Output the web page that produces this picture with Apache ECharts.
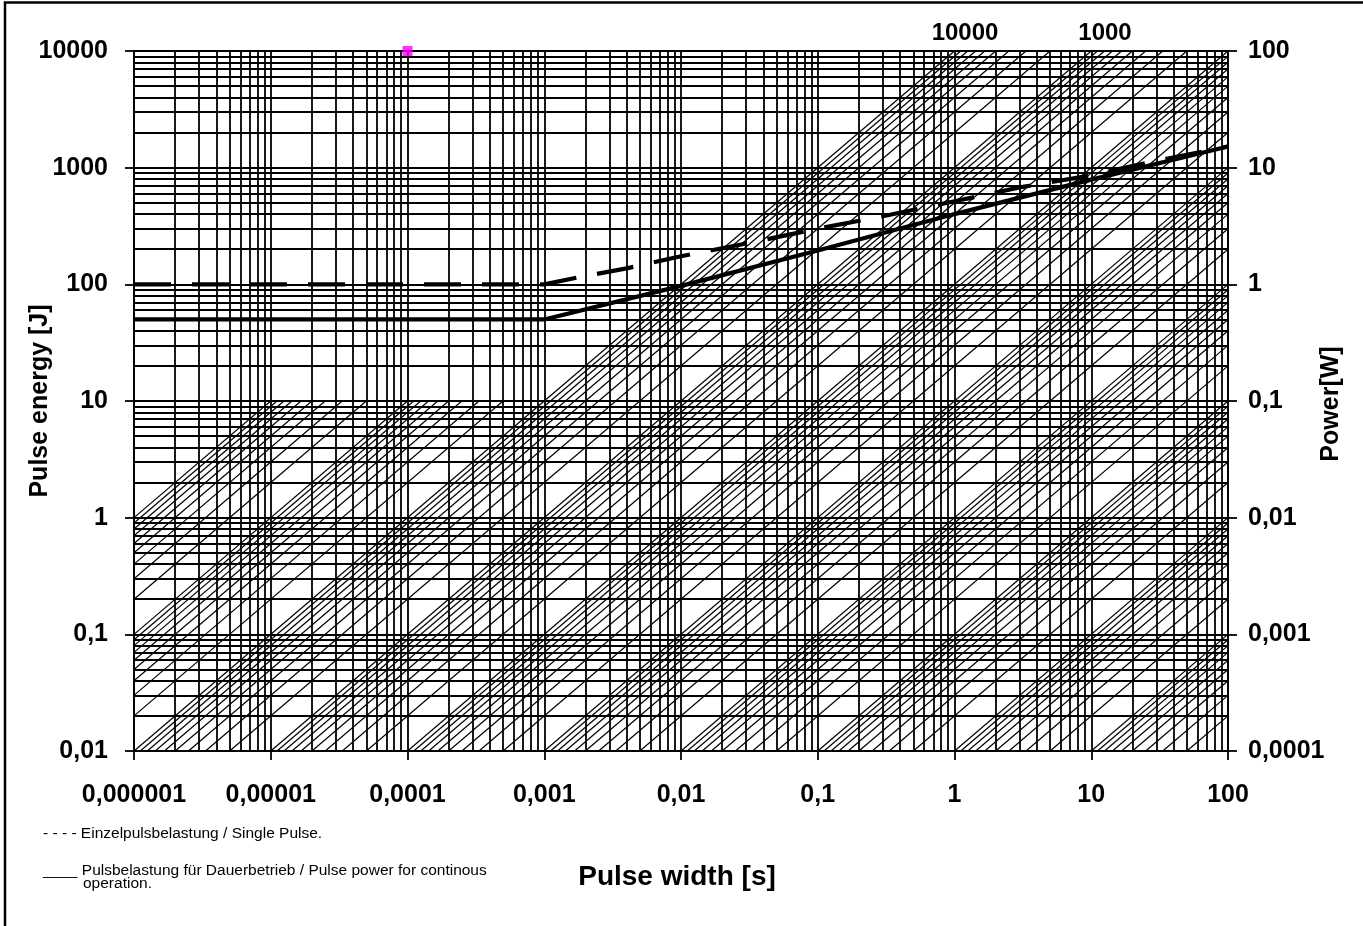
<!DOCTYPE html>
<html><head><meta charset="utf-8">
<script src="https://cdn.jsdelivr.net/npm/echarts@6/dist/echarts.min.js"></script>
<style>html,body{margin:0;padding:0;background:#fff}#c{width:1363px;height:926px}</style>
</head><body><div id="c"></div>
<script>
// ---- axis / grid values ----
const xDecades = [0.000001, 0.00001, 0.0001, 0.001, 0.01, 0.1, 1, 10, 100];
const yDecades = [0.01, 0.1, 1, 10, 100, 1000, 10000];
const powerDecades = [0.0001, 0.001, 0.01, 0.1, 1, 10, 100];
const minorMultipliers = [2, 3, 4, 5, 6, 7, 8, 9];

// ---- constant-power hatch lines (E = P * t) ----
const hatchDecades = [0.0001, 0.001, 0.01, 0.1, 1, 10, 100, 1000, 10000, 100000];
const hatchMultipliers = [1, 2, 3, 4, 5, 6, 7, 8, 9];
const hatchTopPower = 1000000;
const fullHatchLimit = 10000;   // lines up to this power run to the top
const cappedEnergy = 10;        // higher powers stop at this energy

// ---- curves ----
const singlePulseT = [0.000001, 0.001, 0.002, 0.004, 0.01, 0.03, 0.1, 0.3, 1, 3, 10, 30, 100];
const singlePulseE = [100, 100, 118, 137, 174, 224, 300, 383, 515, 678, 860, 1145, 1520];
const continuousT = [0.000001, 0.001, 0.01, 0.1, 1, 10, 100];
const continuousE = [50, 50, 97, 195, 400, 790, 1520];
const markerPoint = [0.0001, 10000];

const X_MIN = xDecades[0], X_MAX = xDecades[xDecades.length - 1];
const Y_MIN = yDecades[0], Y_MAX = yDecades[yDecades.length - 1];

function withMinors(decs) {
  const out = [];
  decs.forEach((d, i) => {
    out.push(d);
    if (i < decs.length - 1) minorMultipliers.forEach(m => out.push(d * m));
  });
  return out;
}
const gridX = withMinors(xDecades);
const gridY = withMinors(yDecades);

const gridLines = [];
gridX.forEach(x => gridLines.push({coords: [[x, Y_MIN], [x, Y_MAX]]}));
gridY.forEach(y => gridLines.push({coords: [[X_MIN, y], [X_MAX, y]]}));

const hatchPowers = [];
hatchDecades.forEach(d => hatchMultipliers.forEach(k => hatchPowers.push(d * k)));
hatchPowers.push(hatchTopPower);
const hatchLines = [];
hatchPowers.forEach(P => {
  const eMax = P <= fullHatchLimit ? Y_MAX : cappedEnergy;
  const t0 = Math.max(X_MIN, Y_MIN / P);
  const t1 = Math.min(X_MAX, eMax / P);
  if (t1 > t0 * 1.0001) hatchLines.push({coords: [[t0, P * t0], [t1, P * t1]]});
});

function fmt(v) {
  const e = Math.round(Math.log10(v));
  if (e >= 0) return String(Math.round(Math.pow(10, e)));
  return '0,' + '0'.repeat(-e - 1) + '1';
}

const FONT = "'Liberation Sans', Arial, sans-serif";
const labelStyle = {fontFamily: FONT, fontWeight: 'bold', fontSize: 25, color: '#000', formatter: fmt};
const axisLine = {show: true, lineStyle: {color: '#000', width: 1.8}};
const axisTick = {show: true, length: 9, lineStyle: {color: '#000', width: 1.8}};

const chart = echarts.init(document.getElementById('c'), null, {renderer: 'canvas'});
chart.setOption({
  animation: false,
  backgroundColor: '#fff',
  grid: {left: 134, right: 135, top: 51, bottom: 175, containLabel: false, outerBoundsMode: 'none'},
  xAxis: {
    type: 'log', logBase: 10, min: X_MIN, max: X_MAX, interval: 1,
    axisLine, axisTick,
    axisLabel: Object.assign({margin: 32}, labelStyle),
    splitLine: {show: false}, minorTick: {show: false}
  },
  yAxis: [{
    type: 'log', logBase: 10, min: Y_MIN, max: Y_MAX, interval: 1, position: 'left',
    axisLine, axisTick,
    axisLabel: Object.assign({margin: 26}, labelStyle),
    splitLine: {show: false}
  }, {
    type: 'log', logBase: 10, min: powerDecades[0], max: powerDecades[powerDecades.length - 1], interval: 1, position: 'right',
    axisLine, axisTick,
    axisLabel: Object.assign({margin: 20}, labelStyle),
    splitLine: {show: false}
  }],
  series: [
    {type: 'lines', coordinateSystem: 'cartesian2d', xAxisIndex: 0, yAxisIndex: 0, clip: false, silent: true,
     lineStyle: {color: '#000', width: 1.8, opacity: 1}, data: gridLines, z: 1},
    {type: 'lines', coordinateSystem: 'cartesian2d', xAxisIndex: 0, yAxisIndex: 0, clip: true, silent: true,
     lineStyle: {color: '#000', width: 1.2, opacity: 1}, data: hatchLines, z: 2},
    {type: 'line', xAxisIndex: 0, yAxisIndex: 0, showSymbol: false, symbol: 'none', silent: true,
     lineStyle: {color: '#000', width: 4.2, type: [37, 21], cap: 'butt'},
     data: singlePulseT.map((t, i) => [t, singlePulseE[i]]), z: 5},
    {type: 'line', xAxisIndex: 0, yAxisIndex: 0, showSymbol: false, symbol: 'none', silent: true,
     lineStyle: {color: '#000', width: 4.2},
     data: continuousT.map((t, i) => [t, continuousE[i]]), z: 5},
    {type: 'scatter', xAxisIndex: 0, yAxisIndex: 0, symbol: 'rect', symbolSize: 10, silent: true,
     itemStyle: {color: '#ff00ff'}, data: [markerPoint], z: 6}
  ],
  graphic: [
    {type: 'rect', silent: true, shape: {x: 5, y: 2.5, width: 1500, height: 1000},
     style: {fill: 'none', stroke: '#000', lineWidth: 2.5}},
    {type: 'text', x: 40, y: 401, rotation: Math.PI / 2, silent: true,
     style: {text: 'Pulse energy [J]', font: "bold 25px " + FONT, fill: '#000', align: 'center', verticalAlign: 'middle'}},
    {type: 'text', x: 1331, y: 404, rotation: Math.PI / 2, silent: true,
     style: {text: 'Power[W]', font: "bold 25px " + FONT, fill: '#000', align: 'center', verticalAlign: 'middle'}},
    {type: 'text', x: 677, y: 877, silent: true,
     style: {text: 'Pulse width [s]', font: "bold 28px " + FONT, fill: '#000', align: 'center', verticalAlign: 'middle'}},
    {type: 'text', x: 965, y: 33, silent: true,
     style: {text: '10000', font: "bold 24px " + FONT, fill: '#000', align: 'center', verticalAlign: 'middle'}},
    {type: 'text', x: 1105, y: 33, silent: true,
     style: {text: '1000', font: "bold 24px " + FONT, fill: '#000', align: 'center', verticalAlign: 'middle'}},
    {type: 'text', x: 43, y: 834, silent: true,
     style: {text: '- - - - Einzelpulsbelastung / Single Pulse.', font: "15.5px " + FONT, fill: '#000', align: 'left', verticalAlign: 'middle'}},
    {type: 'text', x: 43, y: 871, silent: true,
     style: {text: '____ Pulsbelastung für Dauerbetrieb / Pulse power for continous', font: "15.5px " + FONT, fill: '#000', align: 'left', verticalAlign: 'middle'}},
    {type: 'text', x: 83, y: 884, silent: true,
     style: {text: 'operation.', font: "15.5px " + FONT, fill: '#000', align: 'left', verticalAlign: 'middle'}}
  ]
});
</script></body></html>
